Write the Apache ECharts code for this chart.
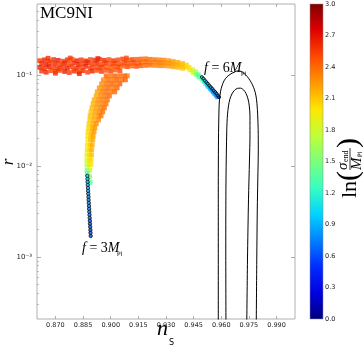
<!DOCTYPE html>
<html><head><meta charset="utf-8">
<script src="https://cdn.jsdelivr.net/npm/echarts@6/dist/echarts.min.js"></script>
<style>html,body{margin:0;padding:0;background:#fff}#c{width:364px;height:348px}</style>
</head><body><div id="c"></div>
<script>
// ---- axis ticks ----
const xTicks=[0.870,0.885,0.900,0.915,0.930,0.945,0.960,0.975,0.990];
const xTickLabels=['0.870','0.885','0.900','0.915','0.930','0.945','0.960','0.975','0.990'];
const yTicks=[0.001,0.01,0.1];
const yTickLabels=['10⁻³','10⁻²','10⁻¹'];
const yMinor=[0.0003,0.0004,0.0005,0.0006,0.0007,0.0008,0.0009,0.002,0.003,0.004,0.005,0.006,0.007,0.008,0.009,0.02,0.03,0.04,0.05,0.06,0.07,0.08,0.09,0.2,0.3,0.4,0.5];
const cbTicks=[0,0.3,0.6,0.9,1.2,1.5,1.8,2.1,2.4,2.7,3.0];
const cbTickLabels=['0.0','0.3','0.6','0.9','1.2','1.5','1.8','2.1','2.4','2.7','3.0'];
// ---- points [n_s, r, ln(sigma_end/M_Pl)] ----
const bandPoints=[
[0.8615,0.143,2.56],[0.864,0.146,2.64],[0.8665,0.142,2.52],[0.869,0.147,2.60],[0.8715,0.144,2.66],[0.874,0.141,2.54],[0.8765,0.146,2.62],[0.879,0.148,2.50],[0.8815,0.143,2.64],[0.884,0.146,2.56],[0.8865,0.142,2.66],[0.889,0.147,2.52],[0.8915,0.145,2.60],[0.894,0.148,2.54],[0.8965,0.144,2.62],[0.899,0.147,2.50],[0.9015,0.143,2.58],[0.904,0.146,2.52],[0.9065,0.149,2.56],[0.909,0.145,2.48],[0.9115,0.147,2.54],[0.914,0.148,2.46],
[0.8625,0.133,2.60],[0.865,0.130,2.66],[0.8675,0.135,2.54],[0.870,0.132,2.62],[0.8725,0.129,2.56],[0.875,0.134,2.64],[0.8775,0.131,2.52],[0.880,0.135,2.60],[0.8825,0.130,2.66],[0.885,0.133,2.54],[0.8875,0.136,2.62],[0.890,0.131,2.56],[0.8925,0.134,2.62],[0.895,0.130,2.52],[0.8975,0.135,2.58],[0.900,0.132,2.50],[0.9025,0.134,2.56],[0.905,0.131,2.49],[0.9075,0.135,2.54],[0.910,0.133,2.46],[0.9125,0.136,2.52],[0.915,0.134,2.44],
[0.8615,0.121,2.64],[0.864,0.118,2.58],[0.8665,0.123,2.66],[0.869,0.120,2.54],[0.8715,0.117,2.62],[0.874,0.122,2.56],[0.8765,0.119,2.66],[0.879,0.123,2.54],[0.8815,0.118,2.60],[0.884,0.121,2.52],[0.8865,0.124,2.64],[0.889,0.119,2.56],[0.8915,0.122,2.50],[0.894,0.120,2.58],[0.8965,0.123,2.52],[0.899,0.121,2.45],[0.9015,0.124,2.50],[0.904,0.122,2.54],[0.9065,0.125,2.46],[0.909,0.123,2.50],[0.9115,0.125,2.44],[0.914,0.124,2.48],
[0.8625,0.110,2.58],[0.865,0.107,2.64],[0.8675,0.111,2.52],[0.870,0.108,2.60],[0.8725,0.112,2.54],[0.875,0.109,2.66],[0.8775,0.106,2.56],[0.880,0.110,2.62],[0.8825,0.108,2.50],[0.885,0.111,2.60],[0.8875,0.107,2.54],[0.890,0.110,2.64],[0.8925,0.112,2.52],[0.895,0.109,2.56],[0.8975,0.112,2.48],[0.900,0.110,2.54],[0.9025,0.113,2.46],[0.905,0.111,2.52],
[0.866,0.152,2.60],[0.878,0.153,2.54],[0.893,0.151,2.64],[0.9085,0.153,2.50],[0.870,0.104,2.54],[0.883,0.103,2.64],
[0.9165,0.149,2.44],[0.919,0.150,2.40],[0.9215,0.148,2.40],[0.924,0.147,2.36],[0.9265,0.146,2.34],[0.929,0.145,2.30],[0.9315,0.143,2.28],[0.934,0.140,2.24],[0.9365,0.137,2.20],[0.939,0.133,2.16],[0.941,0.128,2.08],
[0.9165,0.137,2.40],[0.919,0.139,2.42],[0.9215,0.136,2.36],[0.924,0.138,2.34],[0.9265,0.135,2.36],[0.929,0.136,2.30],[0.9315,0.134,2.26],[0.934,0.132,2.22],[0.9365,0.129,2.18],[0.939,0.125,2.12],[0.941,0.121,2.04],
[0.9165,0.126,2.46],[0.919,0.127,2.42],[0.9215,0.128,2.38],[0.924,0.127,2.34],[0.9265,0.126,2.32],[0.929,0.126,2.30],[0.9315,0.125,2.26],[0.934,0.123,2.22],[0.9365,0.121,2.16],[0.939,0.118,2.10],
[0.9425,0.121,2.02],[0.943,0.113,1.95],[0.9445,0.114,1.88],[0.9448,0.106,1.78],[0.946,0.108,1.70],[0.9465,0.101,1.55],[0.9475,0.100,1.40],[0.948,0.095,1.30]
];
const branchPoints=[
[0.8975,0.0975,2.42],[0.9000,0.0975,2.38],[0.9025,0.0975,2.44],[0.9050,0.0975,2.40],[0.9075,0.0975,2.46],[0.9090,0.0975,2.36],
[0.8960,0.0881,2.30],[0.8985,0.0881,2.40],[0.9010,0.0881,2.36],[0.9035,0.0881,2.44],[0.9060,0.0881,2.38],[0.9080,0.0881,2.42],
[0.8950,0.0796,2.28],[0.8975,0.0796,2.36],[0.9000,0.0796,2.42],[0.9025,0.0796,2.38],[0.9050,0.0796,2.44],
[0.8938,0.0719,2.26],[0.8962,0.0719,2.34],[0.8987,0.0719,2.40],[0.9012,0.0719,2.36],[0.9035,0.0719,2.42],
[0.8927,0.0650,2.22],[0.8951,0.0650,2.32],[0.8976,0.0650,2.38],[0.9000,0.0650,2.34],[0.9022,0.0650,2.40],
[0.8921,0.0587,2.20],[0.8945,0.0587,2.30],[0.8970,0.0587,2.36],[0.8993,0.0587,2.40],
[0.8910,0.0531,2.18],[0.8934,0.0531,2.28],[0.8958,0.0531,2.34],[0.8982,0.0531,2.38],
[0.8904,0.0480,2.16],[0.8928,0.0480,2.26],[0.8952,0.0480,2.32],[0.8975,0.0480,2.36],
[0.8898,0.0434,2.14],[0.8922,0.0434,2.24],[0.8946,0.0434,2.32],[0.8966,0.0434,2.38],
[0.8893,0.0392,2.12],[0.8917,0.0392,2.22],[0.8940,0.0392,2.30],[0.8957,0.0392,2.36],
[0.8888,0.0354,2.12],[0.8912,0.0354,2.20],[0.8936,0.0354,2.30],[0.8948,0.0354,2.34],
[0.8887,0.0320,2.10],[0.8910,0.0320,2.20],[0.8934,0.0320,2.30],
[0.8882,0.0290,2.08],[0.8905,0.0290,2.18],[0.8922,0.0290,2.28],
[0.8880,0.0262,2.06],[0.8900,0.0262,2.16],[0.8914,0.0262,2.26],
[0.8877,0.0237,2.04],[0.8897,0.0237,2.14],[0.8910,0.0237,2.24],
[0.8876,0.0214,2.02],[0.8893,0.0214,2.12],[0.8905,0.0214,2.22],
[0.8875,0.0193,2.00],[0.8890,0.0193,2.10],[0.8903,0.0193,2.20],
[0.8873,0.0170,1.98],[0.8888,0.0170,2.08],[0.8900,0.0170,2.18],
[0.8872,0.0150,1.96],[0.8886,0.0150,2.06],[0.8897,0.0150,2.16],
[0.8871,0.0132,1.92],[0.8885,0.0132,2.02],[0.8896,0.0132,2.12],
[0.8871,0.0116,1.86],[0.8884,0.0116,1.96],[0.8893,0.0116,2.04],
[0.8871,0.0103,1.72],[0.8884,0.0103,1.90],[0.8892,0.0103,1.98],
[0.8872,0.0090,1.50],[0.8886,0.0090,1.80],
[0.8873,0.0082,1.30],[0.8886,0.0076,1.55],[0.8888,0.0066,1.35]
];
const descShade=[
[0.9489,0.0900,1.45],[0.9497,0.0864,1.30],[0.9505,0.0829,1.20],[0.9513,0.0794,1.10],[0.9521,0.0761,1.00],[0.9529,0.0729,0.95],
[0.9537,0.0699,0.90],[0.9545,0.0670,0.85],[0.9553,0.0642,0.80],[0.9561,0.0616,0.78],[0.9569,0.0590,0.75],[0.9577,0.0565,0.72]
];
const descLine=[
[0.9495,0.0944,1.10],[0.9503,0.0906,1.05],[0.9511,0.0869,1.00],[0.9519,0.0832,0.95],[0.9527,0.0798,0.92],[0.9535,0.0764,0.88],
[0.9543,0.0733,0.85],[0.9551,0.0703,0.82],[0.9559,0.0673,0.80],[0.9567,0.0646,0.78],[0.9575,0.0619,0.75],[0.9582,0.0593,0.72],[0.9588,0.0569,0.70]
];
const tailPoints=[
[0.88729,0.00776,1.05],[0.88740,0.00719,1.00],[0.88746,0.00667,0.95],[0.88756,0.00618,0.90],[0.88767,0.00573,0.88],[0.88773,0.00531,0.85],
[0.88783,0.00492,0.82],[0.88794,0.00456,0.80],[0.88800,0.00423,0.78],[0.88811,0.00392,0.76],[0.88821,0.00363,0.75],[0.88827,0.00337,0.73],
[0.88838,0.00313,0.72],[0.88849,0.00290,0.70],[0.88859,0.00268,0.69],[0.88870,0.00249,0.68],[0.88876,0.00231,0.66],[0.88887,0.00214,0.65],
[0.88897,0.00198,0.64],[0.88903,0.00184,0.62],[0.88914,0.00170,0.60]
];
// ---- Planck contours [n_s, r] ----
const outerContour=[
[0.95837,0.00015],[0.95837,0.00423],[0.95848,0.0193],[0.95875,0.0412],[0.95902,0.0531],[0.95957,0.0650],[0.96038,0.0757],[0.96147,0.0859],
[0.96309,0.0951],[0.96526,0.1026],[0.96743,0.1079],[0.96906,0.1106],[0.97069,0.1092],[0.97231,0.1038],[0.97394,0.0964],[0.97557,0.0870],
[0.97693,0.0777],[0.97801,0.0684],[0.97883,0.0587],[0.97937,0.0480],[0.97975,0.0363],[0.98002,0.0249],[0.98008,0.0150],[0.97981,0.00701],
[0.97953,0.00328],[0.97926,0.000927],[0.97894,0.00015]
];
const innerContour=[
[0.96255,0.00015],[0.96244,0.00119],[0.96255,0.00701],[0.96298,0.0249],[0.96336,0.0363],[0.96391,0.0456],[0.96472,0.0545],[0.96580,0.0618],
[0.96716,0.0676],[0.96879,0.0711],[0.97042,0.0714],[0.97205,0.0684],[0.97340,0.0626],[0.97449,0.0545],[0.97519,0.0456],[0.97557,0.0354],
[0.97557,0.0219],[0.97530,0.0116],[0.97476,0.00423],[0.97422,0.000927],[0.97378,0.00015]
];
const colorbarRange=[[0,0,3]];
const jet=['#000080','#0000e0','#002bff','#0080ff','#00d4ff','#37ffc0','#7bff7b','#c0ff37','#ffe600','#ff9700','#ff4800','#e00000','#800000'];

function pick(ticks,labels){return v=>{const i=ticks.findIndex(t=>Math.abs(t-v)<1e-9*Math.max(1,Math.abs(t))+1e-12);return i>=0?labels[i]:'';};}
function pickLog(ticks,labels){return v=>{const i=ticks.findIndex(t=>Math.abs(Math.log10(t)-Math.log10(v))<1e-6);return i>=0?labels[i]:'';};}

const chart=echarts.init(document.getElementById('c'),null,{renderer:'canvas'});
const tickColor='#9a9a9a';
const labelFont={fontSize:6.5,color:'#222',fontFamily:'DejaVu Sans'};
const serif='Liberation Serif';
const option={
  animation:false,
  backgroundColor:'#fff',
  grid:[
    {left:37,top:4,width:258,height:315,show:true,borderColor:'#b0b0b0',borderWidth:1,backgroundColor:'transparent'},
    {left:310,top:4,width:13,height:315,show:false}
  ],
  xAxis:[
    {gridIndex:0,type:'value',min:0.86,max:1.0,position:'bottom',axisLine:{show:false},splitLine:{show:false},
     axisTick:{show:true,inside:true,length:3,customValues:xTicks,lineStyle:{color:tickColor,width:0.8}},
     axisLabel:Object.assign({customValues:xTicks,formatter:pick(xTicks,xTickLabels),margin:3},labelFont)},
    {gridIndex:0,type:'value',min:0.86,max:1.0,position:'top',axisLine:{show:false},splitLine:{show:false},
     axisTick:{show:true,inside:true,length:3,customValues:xTicks,lineStyle:{color:tickColor,width:0.8}},axisLabel:{show:false}},
    {gridIndex:1,type:'value',min:0,max:1,show:false}
  ],
  yAxis:[
    {gridIndex:0,type:'log',logBase:10,min:2.08e-4,max:0.6,position:'left',axisLine:{show:false},splitLine:{show:false},
     axisTick:{show:true,inside:true,length:4,customValues:yTicks,lineStyle:{color:tickColor,width:0.8}},
     axisLabel:Object.assign({customValues:yTicks,formatter:pickLog(yTicks,yTickLabels),margin:5},labelFont,{fontSize:7})},
    {gridIndex:0,type:'log',logBase:10,min:2.08e-4,max:0.6,position:'left',axisLine:{show:false},splitLine:{show:false},
     axisTick:{show:true,inside:true,length:2,customValues:yMinor,lineStyle:{color:tickColor,width:0.6}},axisLabel:{show:false}},
    {gridIndex:0,type:'log',logBase:10,min:2.08e-4,max:0.6,position:'right',axisLine:{show:false},splitLine:{show:false},
     axisTick:{show:true,inside:true,length:4,customValues:yTicks,lineStyle:{color:tickColor,width:0.8}},axisLabel:{show:false}},
    {gridIndex:1,type:'value',min:0,max:3,position:'right',axisLine:{show:false},splitLine:{show:false},axisTick:{show:false},
     axisLabel:Object.assign({customValues:cbTicks,formatter:pick(cbTicks,cbTickLabels),margin:2},labelFont)}
  ],
  visualMap:{type:'continuous',show:false,min:0,max:3,dimension:2,seriesIndex:[0,1,2,3,4],inRange:{color:jet}},
  series:[
    {type:'scatter',data:bandPoints,symbol:'rect',symbolSize:4.8,silent:true,z:2},
    {type:'scatter',data:branchPoints,symbol:'rect',symbolSize:4.8,silent:true,z:2},
    {type:'scatter',data:descShade,symbol:'rect',symbolSize:3.5,silent:true,z:3},
    {type:'scatter',data:descLine,symbol:'circle',symbolSize:3,silent:true,z:4,itemStyle:{borderColor:'#000',borderWidth:1}},
    {type:'scatter',data:tailPoints,symbol:'circle',symbolSize:3.4,silent:true,z:4,itemStyle:{borderColor:'#000',borderWidth:0.9}},
    {type:'line',data:outerContour,showSymbol:false,smooth:0.3,lineStyle:{color:'#000',width:1},silent:true,z:5},
    {type:'line',data:innerContour,showSymbol:false,smooth:0.3,lineStyle:{color:'#000',width:1},silent:true,z:5},
    {type:'custom',xAxisIndex:2,yAxisIndex:3,data:colorbarRange,silent:true,
     renderItem:(params,api)=>{
       const p0=api.coord([0,api.value(1)]), p1=api.coord([1,api.value(2)]);
       return {type:'rect',shape:{x:p0[0],y:p1[1],width:p1[0]-p0[0],height:p0[1]-p1[1]},
         style:{fill:new echarts.graphic.LinearGradient(0,1,0,0,jet.map((c,i)=>({offset:i/(jet.length-1),color:c}))),stroke:'#888',lineWidth:0.5}};
     }}
  ],
  graphic:[
    {type:'text',left:40,top:5,style:{text:'MC9NI',fontSize:17,fontFamily:serif,fill:'#000'}},
    {type:'text',left:82,top:241,style:{text:'{i|f}{u| = 3}{i|M}',rich:{i:{fontSize:14,fontFamily:serif,fontStyle:'italic',fill:'#000'},u:{fontSize:14,fontFamily:serif,fill:'#000'}}}},
    {type:'text',left:117,top:251,style:{text:'Pl',fontSize:6,fontFamily:'DejaVu Sans',fill:'#000'}},
    {type:'text',left:204,top:61,style:{text:'{i|f}{u| = 6}{i|M}',rich:{i:{fontSize:14,fontFamily:serif,fontStyle:'italic',fill:'#000'},u:{fontSize:14,fontFamily:serif,fill:'#000'}}}},
    {type:'text',left:241,top:71,style:{text:'Pl',fontSize:6,fontFamily:'DejaVu Sans',fill:'#000'}},
    {type:'text',left:157,top:318,style:{text:'n',fontSize:22,fontFamily:serif,fontStyle:'italic',fill:'#000'}},
    {type:'text',left:169,top:339,style:{text:'S',fontSize:8,fontFamily:'DejaVu Sans',fill:'#000'}},
    {type:'text',x:9,y:162,rotation:Math.PI/2,style:{text:'r',fontSize:17,fontFamily:serif,fontStyle:'italic',fill:'#000',align:'center',verticalAlign:'middle'}},
    {type:'group',x:350,y:162,rotation:Math.PI/2,children:[
      {type:'text',style:{x:-36,y:0,text:'ln',fontSize:22,fontFamily:serif,fill:'#000',align:'left',verticalAlign:'middle'}},
      {type:'text',style:{x:-19,y:-1,text:'(',fontSize:30,fontFamily:serif,fill:'#000',align:'left',verticalAlign:'middle'}},
      {type:'text',style:{x:-8,y:-7,text:'σ',fontSize:15,fontFamily:serif,fontStyle:'italic',fill:'#000',align:'left',verticalAlign:'middle'}},
      {type:'text',style:{x:0,y:-4,text:'end',fontSize:8,fontFamily:serif,fill:'#000',align:'left',verticalAlign:'middle'}},
      {type:'line',shape:{x1:-8,y1:0,x2:14,y2:0},style:{stroke:'#000',lineWidth:0.8}},
      {type:'text',style:{x:-8,y:7,text:'M',fontSize:15,fontFamily:serif,fontStyle:'italic',fill:'#000',align:'left',verticalAlign:'middle'}},
      {type:'text',style:{x:5,y:10,text:'Pl',fontSize:6,fontFamily:'DejaVu Sans',fill:'#000',align:'left',verticalAlign:'middle'}},
      {type:'text',style:{x:14,y:-1,text:')',fontSize:30,fontFamily:serif,fill:'#000',align:'left',verticalAlign:'middle'}}
    ]}
  ]
};
chart.setOption(option);
</script></body></html>
